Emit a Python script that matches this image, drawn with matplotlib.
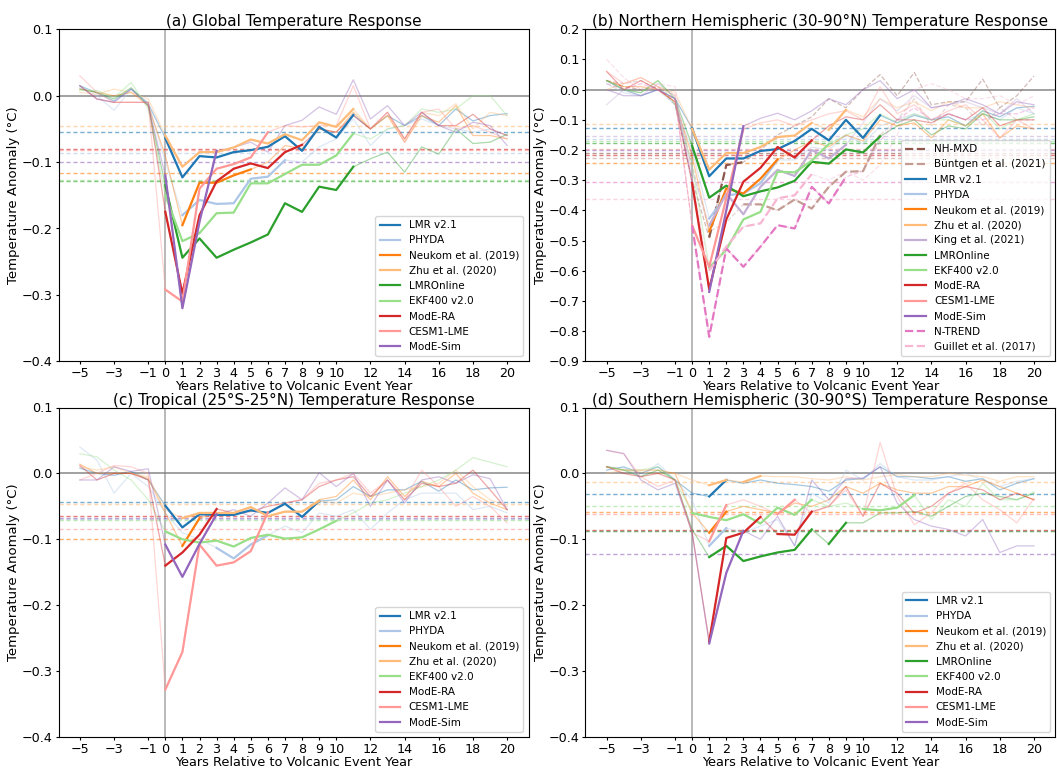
import numpy as np
import matplotlib
matplotlib.use("Agg")
import matplotlib.pyplot as plt
from matplotlib.ticker import FuncFormatter

# years relative to the eruption
years = np.arange(-5, 21)
xtick_vals = [-5, -3, -1, 0, 1, 2, 3, 4, 5, 6, 7, 8, 9, 10, 12, 14, 16, 18, 20]

# ---------------- (a) global ----------------
glob_vals = {
    "LMR v2.1": [0.015, 0.004, -0.008, 0.01, -0.012, -0.064, -0.123, -0.091, -0.093, -0.085, -0.082, -0.077, -0.061,
                 -0.083, -0.047, -0.063, -0.029, -0.05, -0.03, -0.045, -0.03, -0.045, -0.02, -0.038, -0.03, -0.027],
    "PHYDA": [0.012, 0.0, -0.022, 0.01, -0.01, -0.1, -0.18, -0.157, -0.163, -0.162, -0.125, -0.122, -0.097,
              -0.1, -0.077, -0.065, -0.035, -0.075, -0.05, -0.045, -0.035, -0.045, -0.05, -0.055, -0.05, -0.06],
    "Neukom et al. (2019)": [0.01, 0.005, 0.0, 0.005, -0.015, -0.09, -0.195, -0.131, -0.131, -0.12, -0.111, -0.1, -0.075,
                             -0.08, -0.05, -0.055, -0.025, -0.05, -0.03, -0.07, -0.03, -0.04, -0.015, -0.06, -0.06, -0.065],
    "Zhu et al. (2020)": [0.005, 0.002, 0.01, 0.005, -0.005, -0.06, -0.107, -0.085, -0.085, -0.078, -0.066, -0.072, -0.058,
                          -0.067, -0.04, -0.047, -0.02, -0.05, -0.03, -0.065, -0.025, -0.03, -0.012, -0.05, -0.025, -0.03],
    "LMROnline": [0.01, 0.005, -0.005, 0.012, -0.015, -0.135, -0.244, -0.215, -0.244, -0.232, -0.221, -0.209, -0.162,
                  -0.175, -0.137, -0.142, -0.107, -0.095, -0.085, -0.115, -0.077, -0.088, -0.05, -0.072, -0.07, -0.058],
    "EKF400 v2.0": [0.008, 0.008, -0.003, 0.02, -0.02, -0.15, -0.219, -0.207, -0.177, -0.176, -0.132, -0.132, -0.118,
                    -0.104, -0.104, -0.09, -0.057, -0.065, -0.05, -0.045, -0.02, -0.025, -0.02, 0.0, 0.0, -0.03],
    "ModE-RA": [0.015, -0.005, -0.01, -0.01, -0.01, -0.175, -0.298, -0.18, -0.129, -0.11, -0.102, -0.109, -0.085,
                -0.074, -0.05, -0.055, -0.03, -0.05, -0.025, -0.065, -0.025, -0.045, -0.045, -0.028, -0.05, -0.06],
    "CESM1-LME": [0.03, 0.005, -0.01, -0.01, -0.01, -0.292, -0.31, -0.14, -0.11, -0.103, -0.093, -0.055, -0.045,
                  -0.047, -0.045, -0.045, 0.015, -0.05, -0.025, -0.07, -0.025, -0.02, -0.05, -0.045, -0.055, -0.065],
    "ModE-Sim": [0.015, -0.005, -0.01, 0.01, -0.015, -0.12, -0.32, -0.19, -0.083, -0.078, -0.07, -0.085, -0.045,
                 -0.037, -0.017, -0.028, 0.024, -0.035, -0.015, -0.045, -0.025, -0.045, -0.055, -0.04, -0.045, -0.075],
}
glob_sig = {"LMR v2.1": [(0, 11)], "PHYDA": [(1, 7)], "Neukom et al. (2019)": [(1, 5)],
            "Zhu et al. (2020)": [(0, 11)], "LMROnline": [(0, 11)], "EKF400 v2.0": [(0, 11)],
            "ModE-RA": [(0, 8)], "CESM1-LME": [(0, 6)], "ModE-Sim": [(0, 3)]}
glob_thr = {"LMR v2.1": -0.055, "PHYDA": -0.087, "Neukom et al. (2019)": -0.117, "Zhu et al. (2020)": -0.045,
            "LMROnline": -0.128, "EKF400 v2.0": -0.127, "ModE-RA": -0.08, "CESM1-LME": -0.082, "ModE-Sim": -0.1}

# ---------------- (b) NH extratropics ----------------
nh_vals = {
    "NH-MXD": [0.03, 0.01, 0.0, 0.01, -0.05, -0.3, -0.49, -0.25, -0.24, -0.2, -0.15, -0.12, -0.09,
               -0.03, -0.06, 0.0, 0.05, -0.02, 0.057, -0.05, -0.04, -0.04, 0.035, -0.06, -0.02, 0.045],
    "Büntgen et al. (2021)": [0.03, 0.02, 0.03, 0.0, -0.03, -0.25, -0.47, -0.44, -0.38, -0.38, -0.4, -0.364, -0.394,
                              -0.322, -0.272, -0.27, -0.15, -0.1, -0.03, -0.12, -0.05, -0.06, -0.12, -0.06, -0.1, -0.1],
    "LMR v2.1": [0.03, 0.0, -0.02, 0.0, -0.03, -0.128, -0.287, -0.228, -0.228, -0.203, -0.197, -0.17, -0.13,
                 -0.168, -0.1, -0.16, -0.085, -0.11, -0.085, -0.1, -0.09, -0.12, -0.07, -0.09, -0.06, -0.055],
    "PHYDA": [0.02, -0.01, -0.02, 0.0, -0.05, -0.2, -0.427, -0.35, -0.344, -0.31, -0.233, -0.233, -0.19,
              -0.2, -0.15, -0.18, -0.12, -0.1, -0.08, -0.1, -0.08, -0.1, -0.08, -0.1, -0.06, -0.08],
    "Neukom et al. (2019)": [0.03, 0.01, 0.01, 0.0, -0.04, -0.22, -0.47, -0.327, -0.344, -0.295, -0.231, -0.2, -0.17,
                             -0.19, -0.15, -0.17, -0.1, -0.12, -0.11, -0.16, -0.1, -0.12, -0.08, -0.16, -0.12, -0.13],
    "Zhu et al. (2020)": [0.0, 0.02, 0.04, 0.01, -0.01, -0.13, -0.265, -0.21, -0.21, -0.19, -0.157, -0.152, -0.11,
                          -0.133, -0.067, -0.09, -0.03, -0.06, -0.04, -0.07, -0.04, -0.06, -0.06, -0.04, -0.05, -0.06],
    "King et al. (2021)": [-0.05, 0.0, -0.02, 0.02, -0.02, -0.27, -0.45, -0.344, -0.413, -0.322, -0.266, -0.286, -0.2,
                           -0.228, -0.183, -0.11, -0.03, -0.07, -0.02, -0.06, -0.05, -0.04, -0.06, -0.08, -0.03, -0.08],
    "LMROnline": [0.03, 0.0, -0.01, 0.03, -0.03, -0.186, -0.358, -0.318, -0.353, -0.337, -0.324, -0.302, -0.239,
                  -0.245, -0.198, -0.208, -0.155, -0.12, -0.1, -0.15, -0.12, -0.13, -0.08, -0.1, -0.1, -0.09],
    "EKF400 v2.0": [0.03, 0.0, -0.01, 0.03, -0.05, -0.25, -0.59, -0.53, -0.43, -0.405, -0.272, -0.274, -0.235,
                    -0.18, -0.15, -0.13, -0.08, -0.11, -0.08, -0.1, -0.1, -0.12, -0.07, -0.13, -0.1, -0.08],
    "ModE-RA": [0.06, 0.0, 0.03, 0.0, -0.04, -0.31, -0.661, -0.43, -0.305, -0.259, -0.19, -0.225, -0.168,
                -0.12, -0.09, -0.1, -0.05, -0.1, -0.1, -0.11, -0.08, -0.1, -0.06, -0.12, -0.1, -0.1],
    "CESM1-LME": [0.06, 0.02, 0.04, 0.01, -0.02, -0.45, -0.587, -0.36, -0.13, -0.11, -0.1, -0.12, -0.1,
                  -0.08, -0.07, -0.1, 0.01, -0.08, -0.05, -0.1, -0.07, -0.05, -0.1, -0.16, -0.1, -0.13],
    "ModE-Sim": [0.0, -0.02, -0.02, 0.0, -0.03, -0.3, -0.67, -0.4, -0.121, -0.095, -0.078, -0.1, -0.07,
                 -0.03, -0.05, 0.0, 0.03, -0.03, 0.0, -0.06, -0.05, -0.03, -0.05, -0.08, -0.04, -0.05],
    "N-TREND": [0.02, 0.0, 0.02, 0.0, -0.03, -0.45, -0.819, -0.526, -0.587, -0.52, -0.449, -0.46, -0.322,
                -0.377, -0.289, -0.27, -0.17, -0.1, -0.06, -0.1, -0.08, -0.1, -0.1, -0.08, -0.08, -0.06],
    "Guillet et al. (2017)": [0.1, 0.04, 0.0, 0.02, 0.01, -0.3, -0.6, -0.52, -0.454, -0.443, -0.36, -0.35, -0.28,
                              -0.3, -0.27, -0.3, -0.25, -0.15, 0.0, 0.02, 0.0, -0.03, -0.03, -0.02, -0.05, -0.02],
}
nh_sig = {"NH-MXD": [(1, 3)], "Büntgen et al. (2021)": [(3, 11)], "LMR v2.1": [(0, 11)], "PHYDA": [(1, 5)],
          "Neukom et al. (2019)": [(1, 5)], "Zhu et al. (2020)": [(0, 7), (8, 9)], "King et al. (2021)": [(1, 9)],
          "LMROnline": [(0, 11)], "EKF400 v2.0": [(1, 8)], "ModE-RA": [(0, 7)], "CESM1-LME": [(0, 3)],
          "ModE-Sim": [(1, 3)], "N-TREND": [(0, 9)], "Guillet et al. (2017)": [(1, 7)]}
nh_thr = {"NH-MXD": -0.21, "Büntgen et al. (2021)": -0.225, "LMR v2.1": -0.128, "PHYDA": -0.162,
          "Neukom et al. (2019)": -0.242, "Zhu et al. (2020)": -0.113, "King et al. (2021)": -0.155,
          "LMROnline": -0.177, "EKF400 v2.0": -0.17, "ModE-RA": -0.215, "CESM1-LME": -0.197,
          "ModE-Sim": -0.2, "N-TREND": -0.307, "Guillet et al. (2017)": -0.363}

# ---------------- (c) tropics ----------------
trop_vals = {
    "LMR v2.1": [0.008, 0.0, -0.003, 0.003, -0.01, -0.049, -0.082, -0.062, -0.063, -0.063, -0.056, -0.06, -0.046,
                 -0.066, -0.042, -0.04, -0.02, -0.035, -0.025, -0.025, -0.012, -0.027, -0.01, -0.025, -0.022, -0.021],
    "PHYDA": [0.04, 0.02, -0.03, 0.0, -0.02, -0.06, -0.09, -0.1, -0.113, -0.129, -0.108, -0.094, -0.08,
              -0.09, -0.06, -0.065, -0.055, -0.085, -0.06, -0.04, -0.03, -0.03, -0.03, -0.055, -0.05, -0.06],
    "Neukom et al. (2019)": [0.014, 0.0, 0.0, 0.0, -0.008, -0.06, -0.11, -0.068, -0.06, -0.06, -0.052, -0.065, -0.058,
                             -0.058, -0.04, -0.035, -0.01, -0.04, -0.005, -0.035, -0.012, -0.02, 0.0, -0.03, -0.045, -0.055],
    "Zhu et al. (2020)": [0.01, 0.005, 0.01, 0.0, -0.005, -0.055, -0.068, -0.06, -0.06, -0.06, -0.051, -0.065, -0.058,
                          -0.058, -0.042, -0.045, -0.03, -0.035, -0.03, -0.025, -0.02, -0.015, 0.005, -0.02, -0.04, -0.05],
    "EKF400 v2.0": [0.03, 0.025, 0.005, -0.01, -0.04, -0.088, -0.1, -0.105, -0.102, -0.111, -0.098, -0.093, -0.099,
                    -0.097, -0.085, -0.072, -0.06, -0.045, -0.04, -0.03, -0.02, -0.01, 0.005, 0.024, 0.017, 0.01],
    "ModE-RA": [0.012, -0.01, 0.0, 0.0, -0.01, -0.14, -0.12, -0.093, -0.054, -0.06, -0.058, -0.05, -0.045,
                -0.04, -0.02, -0.01, -0.005, -0.035, -0.01, -0.04, -0.015, -0.02, -0.015, 0.005, -0.025, -0.055],
    "CESM1-LME": [-0.01, 0.0, 0.012, 0.01, 0.0, -0.328, -0.271, -0.108, -0.14, -0.135, -0.118, -0.059, -0.045,
                  -0.04, -0.015, -0.01, 0.0, -0.03, -0.01, -0.04, 0.005, -0.02, -0.05, -0.035, -0.05, -0.075],
    "ModE-Sim": [-0.01, -0.01, 0.01, 0.003, 0.007, -0.108, -0.157, -0.107, -0.062, -0.055, -0.065, -0.045, -0.022,
                 -0.04, 0.001, -0.02, 0.0, -0.05, -0.01, -0.045, -0.01, -0.005, -0.015, -0.002, -0.008, -0.055],
}
trop_sig = {"LMR v2.1": [(0, 9)], "PHYDA": [(3, 6)], "Neukom et al. (2019)": [(1, 2)],
            "Zhu et al. (2020)": [(1, 9)], "EKF400 v2.0": [(0, 10)], "ModE-RA": [(0, 3)],
            "CESM1-LME": [(0, 6)], "ModE-Sim": [(0, 3)]}
trop_thr = {"LMR v2.1": -0.043, "PHYDA": -0.069, "Neukom et al. (2019)": -0.1, "Zhu et al. (2020)": -0.046,
            "EKF400 v2.0": -0.071, "ModE-RA": -0.065, "CESM1-LME": -0.084, "ModE-Sim": -0.067}

# ---------------- (d) SH extratropics ----------------
sh_vals = {
    "LMR v2.1": [0.005, 0.01, 0.0, 0.01, -0.01, -0.03, -0.035, -0.01, -0.015, -0.01, -0.015, -0.017, -0.02,
                 -0.027, -0.01, -0.008, 0.01, -0.005, -0.005, -0.008, -0.005, -0.012, -0.008, -0.025, -0.015, -0.008],
    "PHYDA": [0.01, 0.008, -0.005, 0.015, -0.01, -0.04, -0.11, -0.083, -0.09, -0.08, -0.07, -0.11, -0.03,
              -0.045, 0.005, -0.01, 0.015, -0.005, -0.01, -0.01, -0.005, 0.0, -0.01, -0.02, -0.012, -0.008],
    "Neukom et al. (2019)": [0.01, 0.005, 0.005, 0.005, 0.0, -0.06, -0.09, -0.058, -0.05, -0.055, -0.06, -0.045, -0.05,
                             -0.04, -0.02, -0.03, -0.015, -0.025, -0.03, -0.03, -0.02, -0.02, -0.01, -0.02, -0.03, -0.04],
    "Zhu et al. (2020)": [0.0, 0.005, 0.002, 0.0, 0.0, -0.01, -0.018, -0.01, -0.013, -0.004, -0.005, -0.005, -0.008,
                          -0.01, -0.005, -0.01, -0.005, -0.002, -0.005, -0.005, 0.0, -0.003, -0.005, -0.012, -0.005, -0.005],
    "LMROnline": [0.01, 0.005, -0.005, 0.005, -0.01, -0.085, -0.127, -0.11, -0.133, -0.126, -0.12, -0.116, -0.085,
                  -0.107, -0.075, -0.075, -0.06, -0.06, -0.058, -0.065, -0.05, -0.035, -0.03, -0.035, -0.04, -0.03],
    "EKF400 v2.0": [0.01, 0.005, 0.005, 0.01, -0.01, -0.06, -0.066, -0.071, -0.062, -0.076, -0.052, -0.063, -0.04,
                    -0.05, -0.045, -0.054, -0.056, -0.052, -0.033, -0.07, -0.04, -0.05, -0.015, -0.04, -0.04, -0.028],
    "ModE-RA": [0.01, 0.0, -0.005, 0.0, -0.01, -0.09, -0.255, -0.098, -0.09, -0.066, -0.092, -0.093, -0.058,
                -0.05, -0.02, -0.065, -0.015, -0.03, -0.06, -0.05, -0.03, -0.02, -0.025, -0.04, -0.03, -0.04],
    "CESM1-LME": [0.035, 0.03, -0.005, -0.02, -0.01, -0.09, -0.103, -0.048, -0.04, -0.05, -0.062, -0.04, -0.06,
                  -0.05, -0.025, -0.065, 0.047, -0.035, -0.078, -0.06, -0.03, -0.015, -0.04, -0.055, -0.075, -0.038],
    "ModE-Sim": [0.035, 0.03, -0.01, -0.025, -0.015, -0.09, -0.258, -0.151, -0.087, -0.1, -0.065, -0.11, -0.01,
                 -0.04, -0.008, -0.007, 0.01, -0.045, -0.07, -0.08, -0.085, -0.095, -0.07, -0.12, -0.11, -0.11],
}
sh_sig = {"LMR v2.1": [(1, 2)], "PHYDA": [(1, 2)], "Neukom et al. (2019)": [(1, 2)],
          "Zhu et al. (2020)": [(1, 2), (3, 4)], "LMROnline": [(1, 7), (8, 9)],
          "EKF400 v2.0": [(0, 7), (10, 13)], "ModE-RA": [(1, 4), (5, 7)],
          "CESM1-LME": [(1, 2), (5, 6)], "ModE-Sim": [(1, 3)]}
sh_thr = {"LMR v2.1": -0.032, "PHYDA": -0.087, "Neukom et al. (2019)": -0.059, "Zhu et al. (2020)": -0.013,
          "LMROnline": -0.088, "EKF400 v2.0": -0.05, "ModE-RA": -0.086, "CESM1-LME": -0.061, "ModE-Sim": -0.122}

# colours / line styles per dataset
colors = {
    "LMR v2.1": "#1f77b4", "PHYDA": "#aec7e8", "Neukom et al. (2019)": "#ff7f0e",
    "Zhu et al. (2020)": "#ffbb78", "LMROnline": "#2ca02c", "EKF400 v2.0": "#98df8a",
    "ModE-RA": "#d62728", "CESM1-LME": "#ff9896", "ModE-Sim": "#9467bd",
    "King et al. (2021)": "#c5b0d5", "NH-MXD": "#8c564b", "Büntgen et al. (2021)": "#c49c94",
    "N-TREND": "#e377c2", "Guillet et al. (2017)": "#f7b6d2",
}
dashed = ["NH-MXD", "Büntgen et al. (2021)", "N-TREND", "Guillet et al. (2017)"]


def yfmt(v, pos):
    if abs(v) < 1e-9:
        return "0.0"
    return f"{v:.1f}".replace("-", "\u2212")


fig = plt.figure(figsize=(10.57, 7.68), dpi=100)
W, H = 1057.0, 768.0
ax_w = 470.0
panels = [
    ("(a) Global Temperature Response", glob_vals, glob_sig, glob_thr, (-0.4, 0.1), (58.5, 29.3, 332.0)),
    ("(b) Northern Hemispheric (30-90°N) Temperature Response", nh_vals, nh_sig, nh_thr, (-0.9, 0.2),
     (585.3, 29.3, 332.0)),
    ("(c) Tropical (25°S-25°N) Temperature Response", trop_vals, trop_sig, trop_thr, (-0.4, 0.1),
     (58.5, 407.5, 329.5)),
    ("(d) Southern Hemispheric (30-90°S) Temperature Response", sh_vals, sh_sig, sh_thr, (-0.4, 0.1),
     (585.3, 407.5, 329.5)),
]

for title, vals, sig, thr, ylim, (px, py, ph) in panels:
    ax = fig.add_axes([px / W, 1 - (py + ph) / H, ax_w / W, ph / H])
    ax.axhline(0, color="grey", lw=1.3, alpha=0.8, zorder=1)
    ax.axvline(0, color="grey", lw=1.1, alpha=0.7, zorder=1)
    for name, v in vals.items():
        v = np.array(v)
        c = colors[name]
        ls = "--" if name in dashed else "-"
        # full series, faint
        ax.plot(years, v, color=c, lw=0.9, alpha=0.4, ls=ls, zorder=2)
        # significance threshold
        ax.axhline(thr[name], color=c, lw=1.0, alpha=0.6, ls=(0, (3, 2)), zorder=1)
        # significant years, bold
        for k, (s, e) in enumerate(sig[name]):
            m = (years >= s) & (years <= e)
            ax.plot(years[m], v[m], color=c, lw=1.6, ls=ls, zorder=3,
                    label=name if k == 0 else None)
    ax.set_xlim(-6.25, 21.25)
    ax.set_ylim(*ylim)
    ax.set_xticks(xtick_vals)
    ax.set_yticks(np.round(np.arange(ylim[0], ylim[1] + 0.001, 0.1), 1))
    ax.yaxis.set_major_formatter(FuncFormatter(yfmt))
    ax.tick_params(labelsize=9.2, length=2.5, pad=1.5)
    ax.set_title(title, fontsize=11, pad=2)
    ax.set_xlabel("Years Relative to Volcanic Event Year", fontsize=9.3, labelpad=0)
    ax.set_ylabel("Temperature Anomaly (°C)", fontsize=9.5, labelpad=1.5)
    ax.legend(loc="lower right", fontsize=7.5, borderaxespad=0.5)

plt.savefig("out.png", dpi=100)
plt.close()
